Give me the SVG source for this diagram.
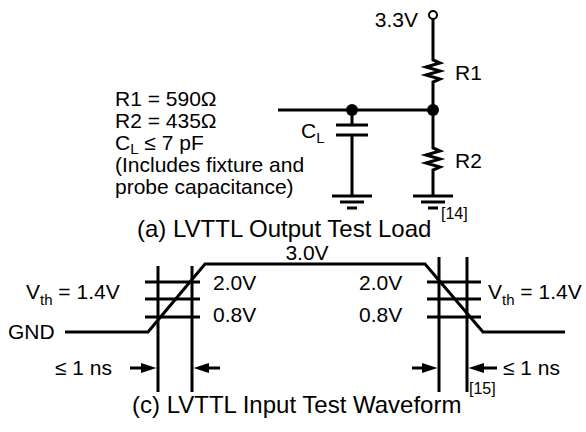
<svg xmlns="http://www.w3.org/2000/svg" width="586" height="432" viewBox="0 0 586 432">
<style>
text{font-family:"Liberation Sans",Arial,Helvetica,sans-serif;font-size:21px;fill:#000}
.cap{font-size:24px}
.sm{font-size:15px}
.ref{font-size:16px}
.w{stroke:#000;stroke-width:3;fill:none;stroke-linecap:butt;stroke-linejoin:miter}
.dot{fill:#000}
.ah{fill:#000;stroke:none}
</style>
<rect width="586" height="432" fill="#fff"/>

<g id="connectors">
<path class="w" d="M278,110 H433"/>
<path class="w" d="M433,19 V60 l7,3 l-14,4 l14,4 l-14,4 l14,4 l-7,3 V110"/>
<path class="w" d="M433,110 V148 l7,3 l-14,4 l14,4 l-14,4 l14,4 l-7,3 V196"/>
<path class="w" d="M352,110 V125 M352,135 V196"/>
</g>

<g id="supply-3v3">
<circle cx="433" cy="15" r="4" fill="#fff" stroke="#000" stroke-width="2"/>
<text x="418" y="27" text-anchor="end">3.3V</text>
</g>
<g id="R1"><text x="455" y="80">R1</text></g>
<g id="R2"><text x="455" y="168">R2</text></g>
<g id="CL">
<path class="w" d="M336,125 H368 M336,135 H368"/>
<text x="301" y="138">C<tspan class="sm" dy="5">L</tspan></text>
</g>
<g id="junctions">
<circle class="dot" cx="352" cy="110" r="6"/>
<circle class="dot" cx="433" cy="110" r="6"/>
</g>
<g id="gnd-cap"><path class="w" d="M332,196 H372 M340,202 H364 M347,208 H357"/></g>
<g id="gnd-r2"><path class="w" d="M413,196 H453 M421,202 H445 M428,208 H438"/></g>

<g id="load-params">
<text x="115" y="106">R1 = 590Ω</text>
<text x="115" y="128">R2 = 435Ω</text>
<text x="115" y="150">C<tspan class="sm" dy="4">L</tspan><tspan dy="-4"> ≤ 7 pF</tspan></text>
<text x="115" y="172">(Includes fixture and</text>
<text x="115" y="194">probe capacitance)</text>
</g>
<g id="caption-a">
<text class="cap" x="137" y="237">(a) LVTTL Output Test Load</text>
<text class="ref" x="441" y="219">[14]</text>
</g>

<g id="waveform">
<path class="w" d="M65,332 H148 L205,264 H425 L483,332 H565"/>
<text x="307" y="260" text-anchor="middle">3.0V</text>
<text x="8" y="339">GND</text>
</g>
<g id="rise-markers">
<path class="w" d="M158,266 V392 M192,266 V392 M145,282 H200 M145,299 H200 M145,317 H200"/>
<text x="26" y="299">V<tspan class="sm" dy="6">th</tspan><tspan dy="-6"> = 1.4V</tspan></text>
<text x="213" y="290">2.0V</text>
<text x="213" y="322">0.8V</text>
<path class="w" d="M130,368 H145 M220,368 H205"/>
<polygon class="ah" points="141,363 156.5,368 141,373"/>
<polygon class="ah" points="209,363 193.5,368 209,373"/>
<text x="55" y="375">≤ 1 ns</text>
</g>
<g id="fall-markers">
<path class="w" d="M439,257 V392 M467,257 V392 M427,282 H481 M427,299 H481 M427,317 H481"/>
<text x="488" y="299">V<tspan class="sm" dy="6">th</tspan><tspan dy="-6"> = 1.4V</tspan></text>
<text x="359" y="290">2.0V</text>
<text x="359" y="322">0.8V</text>
<path class="w" d="M412,368 H425 M497,368 H482"/>
<polygon class="ah" points="422,363 437.5,368 422,373"/>
<polygon class="ah" points="484,363 468.5,368 484,373"/>
<text x="503" y="375">≤ 1 ns</text>
</g>
<g id="caption-c">
<text class="cap" x="132" y="413">(c) LVTTL Input Test Waveform</text>
<text class="ref" x="469" y="394">[15]</text>
</g>
</svg>
